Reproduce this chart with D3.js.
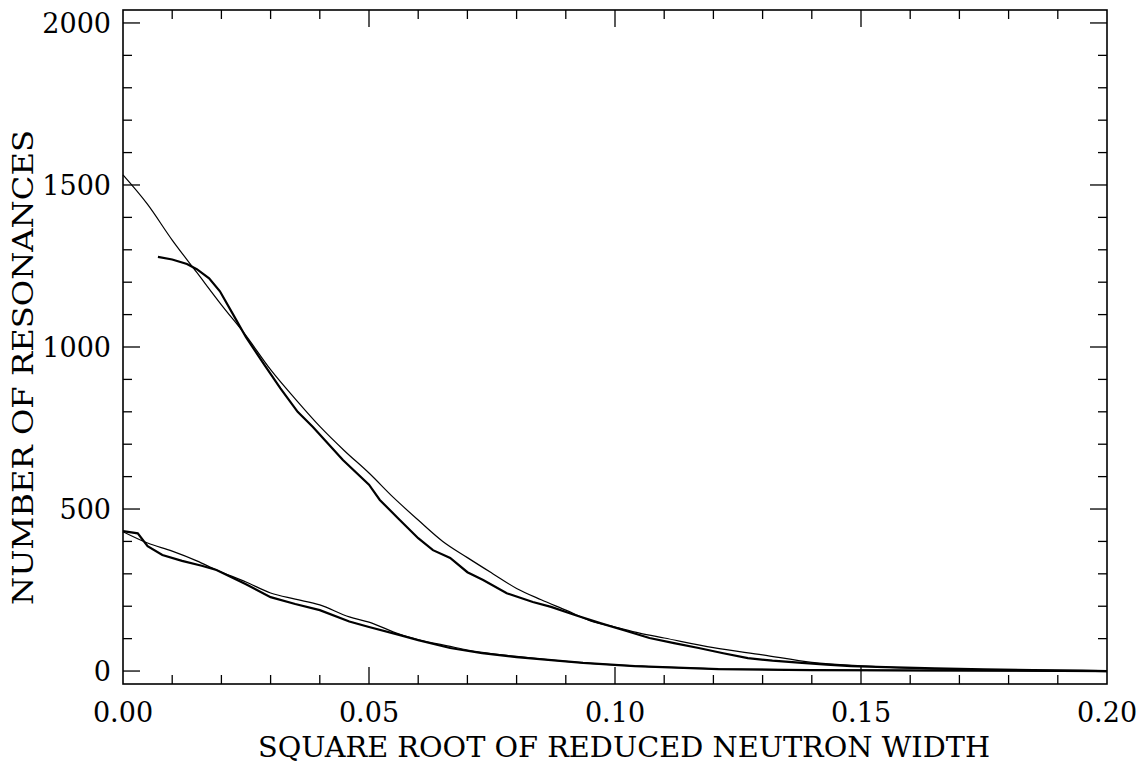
<!DOCTYPE html>
<html>
<head>
<meta charset="utf-8">
<script src="https://cdn.jsdelivr.net/npm/d3@7"></script>
<style>
  body { margin: 0; background: #fff; }
  text { font-family: "DejaVu Serif", "Liberation Serif", serif; fill: #000; }
</style>
</head>
<body>
<div id="chart"></div>
<script>
let width = 1146;
let height = 764;

// x = square root of reduced neutron width, y = number of resonances
let fitUpperX = [0, 0.005, 0.010, 0.015, 0.020, 0.025, 0.030, 0.035, 0.040, 0.045, 0.050, 0.055, 0.060, 0.065, 0.070, 0.075, 0.080, 0.085, 0.090, 0.095, 0.100, 0.105, 0.110, 0.120, 0.130, 0.140, 0.150, 0.160, 0.170, 0.180, 0.190, 0.200];
let fitUpperY = [1531, 1440, 1330, 1230, 1130, 1035, 930, 840, 755, 680, 611, 535, 466, 400, 350, 302, 255, 220, 188, 155, 136, 117, 102, 72, 50, 27, 16, 9, 5, 3, 1, 0];

let dataUpperX = [0.0071, 0.010, 0.013, 0.015, 0.0175, 0.0197, 0.0224, 0.025, 0.0285, 0.032, 0.0355, 0.0386, 0.0447, 0.050, 0.0522, 0.056, 0.060, 0.063, 0.0665, 0.070, 0.0732, 0.078, 0.0833, 0.087, 0.092, 0.097, 0.102, 0.107, 0.112, 0.117, 0.122, 0.127, 0.132, 0.138, 0.143, 0.148, 0.155, 0.165, 0.175, 0.185, 0.195, 0.200];
let dataUpperY = [1278, 1270, 1256, 1240, 1212, 1172, 1100, 1030, 950, 872, 800, 753, 651, 575, 528, 470, 410, 373, 349, 305, 281, 240, 213, 198, 172, 148, 125, 102, 86, 71, 55, 40, 32, 25, 20, 15, 12, 8, 5, 3, 1, 0];

let fitLowerX = [0, 0.005, 0.010, 0.015, 0.019, 0.025, 0.030, 0.035, 0.040, 0.046, 0.050, 0.0563, 0.060, 0.0665, 0.070, 0.080, 0.090, 0.100, 0.110, 0.120, 0.130, 0.140, 0.150, 0.170, 0.200];
let fitLowerY = [430, 395, 370, 340, 312, 275, 241, 222, 204, 167, 151, 113, 97, 76, 65, 45, 30, 19, 12, 7, 5, 3, 2, 1, 0];

let dataLowerX = [0, 0.003, 0.005, 0.008, 0.012, 0.016, 0.019, 0.025, 0.030, 0.035, 0.040, 0.046, 0.050, 0.0563, 0.060, 0.0665, 0.073, 0.080, 0.0935, 0.104, 0.121, 0.140, 0.160, 0.180, 0.200];
let dataLowerY = [432, 425, 385, 358, 340, 325, 312, 268, 228, 207, 188, 153, 136, 111, 95, 71, 55, 43, 25, 15, 6, 3, 2, 1, 0];

let xMajor = [0, 0.05, 0.10, 0.15, 0.20];
let xLabels = ["0.00", "0.05", "0.10", "0.15", "0.20"];
let yMajor = [0, 500, 1000, 1500, 2000];
let yLabels = ["0", "500", "1000", "1500", "2000"];

let plotLeft = 123, plotRight = 1107, plotTop = 10, plotBottom = 684;

let svg = d3.select("div#chart").append("svg")
    .attr("width", width)
    .attr("height", height);

let x = d3.scaleLinear().domain([0, 0.2]).range([plotLeft, plotRight]);
let y = d3.scaleLinear().domain([-40, 2040]).range([plotBottom, plotTop]);

let xMinor = d3.range(0, 21).map(i => i / 100);
let yMinor = d3.range(0, 21).map(i => i * 100);

// inward ticks on all four sides
function isMajorX(v) { return Math.abs(v * 20 - Math.round(v * 20)) < 1e-6; }
function isMajorY(v) { return v % 500 === 0; }

xMinor.forEach(v => {
    if (v === 0 || v === 0.2) return;
    let len = isMajorX(v) ? 17 : 9;
    svg.append("line").attr("x1", x(v)).attr("x2", x(v))
        .attr("y1", plotBottom).attr("y2", plotBottom - len)
        .attr("stroke", "black").attr("stroke-width", 1.3);
    svg.append("line").attr("x1", x(v)).attr("x2", x(v))
        .attr("y1", plotTop).attr("y2", plotTop + len)
        .attr("stroke", "black").attr("stroke-width", 1.3);
});

yMinor.forEach(v => {
    let len = isMajorY(v) ? 17 : 9;
    svg.append("line").attr("x1", plotLeft).attr("x2", plotLeft + len)
        .attr("y1", y(v)).attr("y2", y(v))
        .attr("stroke", "black").attr("stroke-width", 1.3);
    svg.append("line").attr("x1", plotRight).attr("x2", plotRight - len)
        .attr("y1", y(v)).attr("y2", y(v))
        .attr("stroke", "black").attr("stroke-width", 1.3);
});

svg.append("rect")
    .attr("x", plotLeft).attr("y", plotTop)
    .attr("width", plotRight - plotLeft).attr("height", plotBottom - plotTop)
    .attr("fill", "none").attr("stroke", "black").attr("stroke-width", 1.6);

xMajor.forEach((v, i) => {
    svg.append("text")
        .attr("x", x(v)).attr("y", 722)
        .attr("text-anchor", "middle")
        .attr("font-size", 27)
        .text(xLabels[i]);
});

yMajor.forEach((v, i) => {
    svg.append("text")
        .attr("x", 111).attr("y", y(v) + 10)
        .attr("text-anchor", "end")
        .attr("font-size", 27)
        .text(yLabels[i]);
});

svg.append("text")
    .attr("x", 258).attr("y", 757)
    .attr("font-size", 27)
    .attr("textLength", 732)
    .attr("lengthAdjust", "spacingAndGlyphs")
    .text("SQUARE ROOT OF REDUCED NEUTRON WIDTH");

svg.append("text")
    .attr("transform", "translate(33, 605) rotate(-90)")
    .attr("font-size", 27)
    .attr("textLength", 475)
    .attr("lengthAdjust", "spacingAndGlyphs")
    .text("NUMBER OF RESONANCES");

let smoothLine = d3.line()
    .x(d => x(d[0]))
    .y(d => y(d[1]))
    .curve(d3.curveMonotoneX);

let dataLine = d3.line()
    .x(d => x(d[0]))
    .y(d => y(d[1]));

let series = [
    [fitUpperX, fitUpperY, 1.2, smoothLine],
    [dataUpperX, dataUpperY, 2.2, dataLine],
    [fitLowerX, fitLowerY, 1.2, smoothLine],
    [dataLowerX, dataLowerY, 2.2, dataLine]
];

series.forEach(s => {
    let pts = s[0].map((v, i) => [v, s[1][i]]);
    svg.append("path")
        .datum(pts)
        .attr("d", s[3])
        .attr("fill", "none")
        .attr("stroke", "black")
        .attr("stroke-width", s[2]);
});
</script>
</body>
</html>
